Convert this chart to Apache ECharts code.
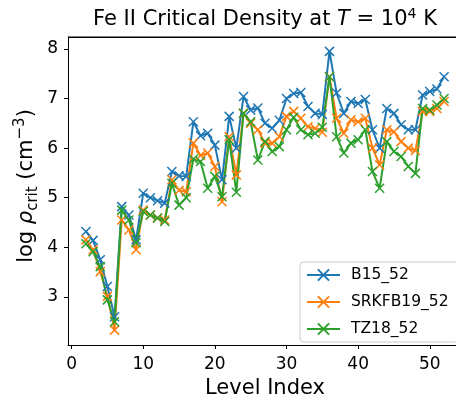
<!DOCTYPE html>
<html><head><meta charset="utf-8">
<script src="https://cdn.jsdelivr.net/npm/echarts@6/dist/echarts.min.js"></script>
<style>html,body{margin:0;padding:0;background:#fff}#c{width:456px;height:400px}</style>
</head><body><div id="c"></div>
<script>
const levels = [2,3,4,5,6,7,8,9,10,11,12,13,14,15,16,17,18,19,20,21,22,23,24,25,26,27,28,29,30,31,32,33,34,35,36,37,38,39,40,41,42,43,44,45,46,47,48,49,50,51,52];
const b15 = [4.32,4.14,3.75,3.21,2.60,4.82,4.65,4.15,5.09,5.00,4.94,4.89,5.53,5.44,5.43,6.53,6.25,6.30,6.06,5.36,6.64,6.00,7.04,6.77,6.81,6.50,6.40,6.56,7.00,7.10,7.12,6.84,6.70,6.68,7.95,7.11,6.70,6.94,6.90,6.98,6.37,6.00,6.80,6.70,6.47,6.37,6.37,7.07,7.14,7.19,7.44];
const srkfb19 = [4.15,3.95,3.51,3.01,2.33,4.55,4.35,3.95,4.75,4.65,4.59,4.55,5.36,5.15,5.12,6.10,5.85,5.90,5.63,4.92,6.23,5.46,6.70,6.50,6.37,6.10,6.10,6.23,6.64,6.74,6.60,6.43,6.40,6.32,7.44,6.60,6.30,6.57,6.53,6.60,6.00,5.66,6.37,6.33,6.13,6.00,5.95,6.74,6.74,6.80,6.94];
const tz18 = [4.07,3.91,3.61,2.94,2.50,4.75,4.55,4.09,4.72,4.65,4.59,4.52,5.29,4.85,5.00,5.78,5.73,5.19,5.43,5.02,6.17,5.11,6.70,6.53,5.76,6.13,5.93,6.03,6.37,6.62,6.37,6.27,6.30,6.42,7.44,6.23,5.90,6.10,6.17,6.37,5.53,5.19,6.13,5.93,5.83,5.63,5.49,6.80,6.77,6.87,7.00];
const seriesNames = ['B15_52','SRKFB19_52','TZ18_52'];
const xTicks = [0,10,20,30,40,50];
const yTicks = [3,4,5,6,7,8];

const FONT = 'DejaVu Sans';
const colors = ['#1f77b4','#ff7f0e','#2ca02c'];
const XSYM = 'path://M0,0L10,10M10,0L0,10';
function mk(name, vals, color) {
  return {
    name: name, type: 'line',
    data: levels.map((l, i) => [l, vals[i]]),
    symbol: XSYM, symbolSize: 9,
    lineStyle: {color: color, width: 2},
    itemStyle: {color: color, borderColor: color, borderWidth: 1.5},
    emphasis: {disabled: true},
    animation: false
  };
}
const chart = echarts.init(document.getElementById('c'));
chart.setOption({
  animation: false,
  color: colors,
  textStyle: {fontFamily: FONT},
  grid: {left: 68, top: 37, width: 394, height: 308, show: false, containLabel: false, outerBoundsMode: 'none'},
  xAxis: {
    type: 'value', min: -0.5, max: 54.5,
    axisLine: {show: true, onZero: false, lineStyle: {color: '#000', width: 1}},
    axisTick: {show: true, customValues: xTicks, length: 4, lineStyle: {color: '#000'}},
    axisLabel: {customValues: xTicks, fontSize: 17, color: '#000', margin: 11, fontFamily: FONT},
    splitLine: {show: false},
    name: 'Level Index', nameLocation: 'middle', nameGap: 33,
    nameTextStyle: {fontSize: 21, color: '#000', fontFamily: FONT}
  },
  yAxis: {
    type: 'value', min: 2.03, max: 8.24,
    axisLine: {show: true, onZero: false, lineStyle: {color: '#000', width: 1}},
    axisTick: {show: true, customValues: yTicks, length: 4, lineStyle: {color: '#000'}},
    axisLabel: {customValues: yTicks, fontSize: 17, color: '#000', margin: 10, fontFamily: FONT},
    splitLine: {show: false}
  },
  legend: {
    orient: 'vertical', left: 300, top: 262,
    itemWidth: 33, itemHeight: 14, itemGap: 11,
    textStyle: {fontSize: 15.5, color: '#000', fontFamily: FONT, padding: [0, 0, 0, 6]},
    backgroundColor: '#fff', borderColor: '#ccc', borderWidth: 1, borderRadius: 4,
    padding: [5, 10, 5, 6],
    data: seriesNames
  },
  graphic: [
    {type: 'rect', silent: true, z: 10, left: 68, top: 36.5,
     shape: {x: 0, y: 0, width: 400, height: 1.5},
     style: {fill: '#000'}},
    {type: 'text', x: 265, y: 20, silent: true,
     style: {text: '{a|Fe II Critical Density at }{i|T}{a| = 10}{s|4}{a| K}',
       align: 'center', verticalAlign: 'middle', fill: '#000',
       rich: {
         a: {fontSize: 21, fontFamily: FONT, lineHeight: 26, fill: '#000'},
         i: {fontSize: 21, fontFamily: FONT, fontStyle: 'italic', lineHeight: 26, fill: '#000'},
         s: {fontSize: 14, fontFamily: FONT, verticalAlign: 'top', lineHeight: 16, fill: '#000'}
       }}},
    {type: 'text', x: 27, y: 186, rotation: Math.PI / 2, silent: true,
     style: {text: '{a|log }{i|ρ}{b|crit}{a| (cm}{s|−3}{a|)}',
       align: 'center', verticalAlign: 'middle', fill: '#000',
       rich: {
         a: {fontSize: 21, fontFamily: FONT, lineHeight: 28, fill: '#000'},
         i: {fontSize: 21, fontFamily: FONT, fontStyle: 'italic', lineHeight: 28, fill: '#000'},
         b: {fontSize: 15, fontFamily: FONT, verticalAlign: 'bottom', lineHeight: 18, fill: '#000'},
         s: {fontSize: 15, fontFamily: FONT, verticalAlign: 'top', lineHeight: 16, fill: '#000'}
       }}}
  ],
  series: [mk(seriesNames[0], b15, colors[0]), mk(seriesNames[1], srkfb19, colors[1]), mk(seriesNames[2], tz18, colors[2])]
});
</script>
</body></html>
